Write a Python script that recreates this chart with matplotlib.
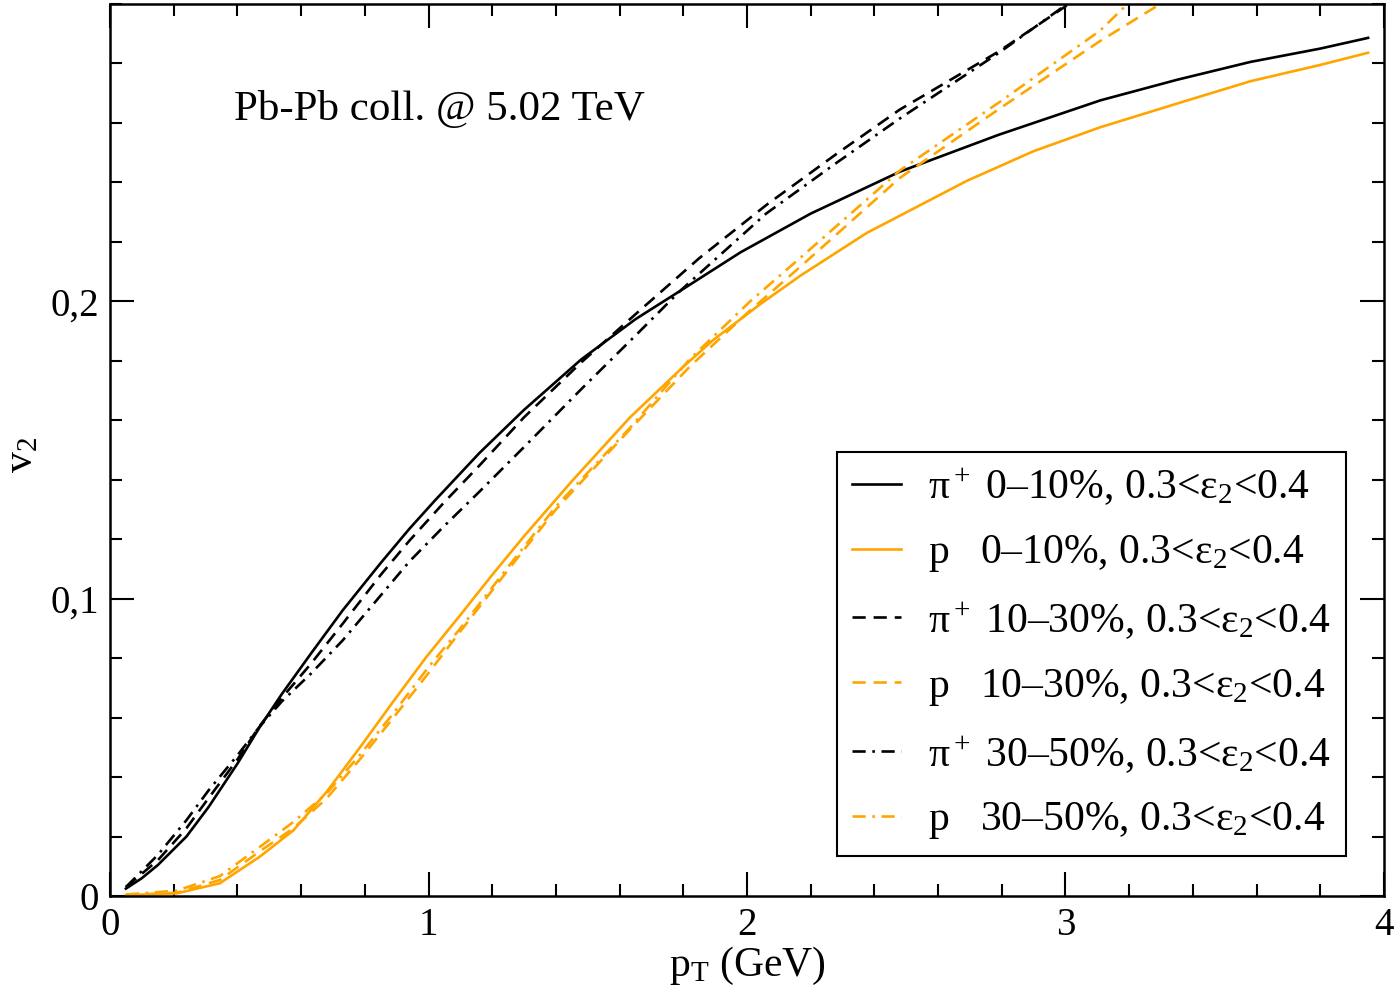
import matplotlib
matplotlib.use('Agg')
import matplotlib.pyplot as plt
from matplotlib.ticker import MultipleLocator

plt.rcParams['font.family'] = ['Liberation Serif', 'DejaVu Serif']
plt.rcParams['mathtext.fontset'] = 'custom'
plt.rcParams['mathtext.rm'] = 'Liberation Serif'
plt.rcParams['mathtext.it'] = 'Liberation Serif:italic'

# v2(pT) curves
pt_pi_0_10 = [0.05, 0.10, 0.15, 0.24, 0.31, 0.40, 0.47, 0.54, 0.63, 0.73, 0.85, 0.94, 1.02,
              1.16, 1.30, 1.48, 1.65, 1.79, 1.98, 2.20, 2.48, 2.79, 3.11, 3.35, 3.58, 3.80, 3.95]
v2_pi_0_10 = [0.0025, 0.006, 0.0104, 0.020, 0.030, 0.0445, 0.0568, 0.068, 0.0814, 0.096, 0.112,
              0.1235, 0.133, 0.149, 0.1635, 0.1805, 0.194, 0.2035, 0.2165, 0.2295, 0.2436, 0.256,
              0.2676, 0.2745, 0.2805, 0.285, 0.2886]

pt_p_0_10 = [0.05, 0.21, 0.345, 0.47, 0.576, 0.68, 0.785, 0.89, 0.994, 1.10, 1.20, 1.30, 1.45,
             1.633, 1.80, 1.894, 2.041, 2.166, 2.376, 2.69, 2.90, 3.108, 3.35, 3.58, 3.80, 3.95]
v2_p_0_10 = [0.0003, 0.0009, 0.0043, 0.0132, 0.0221, 0.0350, 0.0500, 0.0655, 0.0805, 0.0945,
             0.1080, 0.1210, 0.1395, 0.1610, 0.1780, 0.1870, 0.1990, 0.2085, 0.2230, 0.2405,
             0.2505, 0.2585, 0.2665, 0.2740, 0.2795, 0.2836]

pt_pi_10_30 = [0.05, 0.15, 0.24, 0.31, 0.40, 0.47, 0.54, 0.63, 0.73, 0.85, 0.94, 1.05, 1.16,
               1.30, 1.48, 1.664, 1.85, 2.062, 2.28, 2.48, 2.79, 3.004]
v2_pi_10_30 = [0.003, 0.012, 0.0228, 0.033, 0.0459, 0.0572, 0.0667, 0.078, 0.0915, 0.108,
               0.1195, 0.1325, 0.1448, 0.161, 0.1795, 0.197, 0.2145, 0.2325, 0.2495, 0.2645,
               0.2840, 0.2995]

pt_p_10_30 = [0.05, 0.21, 0.345, 0.47, 0.576, 0.68, 0.785, 0.89, 1.0, 1.1, 1.256, 1.40,
              1.633, 1.82, 2.0, 2.166, 2.48, 2.794, 3.108, 3.29]
v2_p_10_30 = [0.0003, 0.0011, 0.0054, 0.015, 0.0228, 0.0328, 0.046, 0.060, 0.075, 0.089,
              0.1105, 0.130, 0.157, 0.178, 0.196, 0.2115, 0.2415, 0.2649, 0.2875, 0.2995]

pt_pi_30_50 = [0.05, 0.15, 0.24, 0.31, 0.40, 0.47, 0.54, 0.63, 0.73, 0.94, 1.05, 1.16, 1.30,
               1.48, 1.65, 1.79, 2.06, 2.28, 2.48, 2.79, 3.00]
v2_pi_30_50 = [0.003, 0.0138, 0.0255, 0.0356, 0.0473, 0.057, 0.0655, 0.0747, 0.0859, 0.1125,
               0.1245, 0.136, 0.151, 0.1705, 0.1885, 0.2035, 0.2295, 0.2465, 0.2615, 0.2835,
               0.2996]

pt_p_30_50 = [0.05, 0.21, 0.345, 0.47, 0.576, 0.68, 0.785, 0.89, 1.0, 1.1, 1.256, 1.40,
              1.633, 1.82, 2.01, 2.166, 2.48, 2.794, 3.108, 3.19]
v2_p_30_50 = [0.0005, 0.0018, 0.0067, 0.0165, 0.0249, 0.0345, 0.0475, 0.0615, 0.077, 0.090,
              0.1115, 0.131, 0.1575, 0.1805, 0.200, 0.2145, 0.2440, 0.2671, 0.2910, 0.2995]

labels = [r'π$^+$ 0–10%, 0.3<ε$_2$<0.4',
          r'p   0–10%, 0.3<ε$_2$<0.4',
          r'π$^+$ 10–30%, 0.3<ε$_2$<0.4',
          r'p   10–30%, 0.3<ε$_2$<0.4',
          r'π$^+$ 30–50%, 0.3<ε$_2$<0.4',
          r'p   30–50%, 0.3<ε$_2$<0.4']

x_ticks = [0, 1, 2, 3, 4]
y_ticks = [0, 0.1, 0.2]
y_ticklabels = ['0', '0,1', '0,2']

orange = '#ffa500'
lw = 1.9
dash = (5, 3)
dashdot = (5, 2.5, 1, 2.5)

fig = plt.figure(figsize=(13.96, 9.96), dpi=100)
ax = fig.add_axes([0.0788, 0.1004, 0.9126, 0.8956])

ax.plot(pt_pi_0_10, v2_pi_0_10, color='black', lw=lw, label=labels[0])
ax.plot(pt_p_0_10, v2_p_0_10, color=orange, lw=lw, label=labels[1])
ax.plot(pt_pi_10_30, v2_pi_10_30, color='black', lw=lw, dashes=dash, label=labels[2])
ax.plot(pt_p_10_30, v2_p_10_30, color=orange, lw=lw, dashes=dash, label=labels[3])
ax.plot(pt_pi_30_50, v2_pi_30_50, color='black', lw=lw, dashes=dashdot, label=labels[4])
ax.plot(pt_p_30_50, v2_p_30_50, color=orange, lw=lw, dashes=dashdot, label=labels[5])

ax.set_xlim(0, 4)
ax.set_ylim(0, 0.3)
ax.set_xticks(x_ticks)
ax.set_yticks(y_ticks)
ax.set_yticklabels(y_ticklabels)
ax.xaxis.set_minor_locator(MultipleLocator(0.2))
ax.yaxis.set_minor_locator(MultipleLocator(0.02))
ax.tick_params(which='both', direction='in', top=True, right=True, width=1.5,
               labelsize=28, colors='black')
ax.tick_params(which='major', length=17, pad=8)
ax.tick_params(which='minor', length=8.5)
for s in ax.spines.values():
    s.set_linewidth(1.8)

ax.set_xlabel(r'p$_\mathrm{T}$ (GeV)', fontsize=30)
ax.set_ylabel(r'v$_2$', fontsize=30)
ax.xaxis.set_label_coords(0.5, -0.055)
ax.yaxis.set_label_coords(-0.054, 0.494)

ax.text(0.0973, 0.870, 'Pb-Pb coll. @ 5.02 TeV', transform=ax.transAxes,
        fontsize=31, va='baseline', ha='left')

leg = ax.legend(loc='lower left', bbox_to_anchor=(0.571, 0.0448), fontsize=30,
                frameon=True, fancybox=False, framealpha=1, edgecolor='black',
                handlelength=1.18, handletextpad=0.65, labelspacing=0.62,
                borderpad=0.35, borderaxespad=0)
leg.get_frame().set_linewidth(1.5)

fig.savefig('out.png', dpi=100)
